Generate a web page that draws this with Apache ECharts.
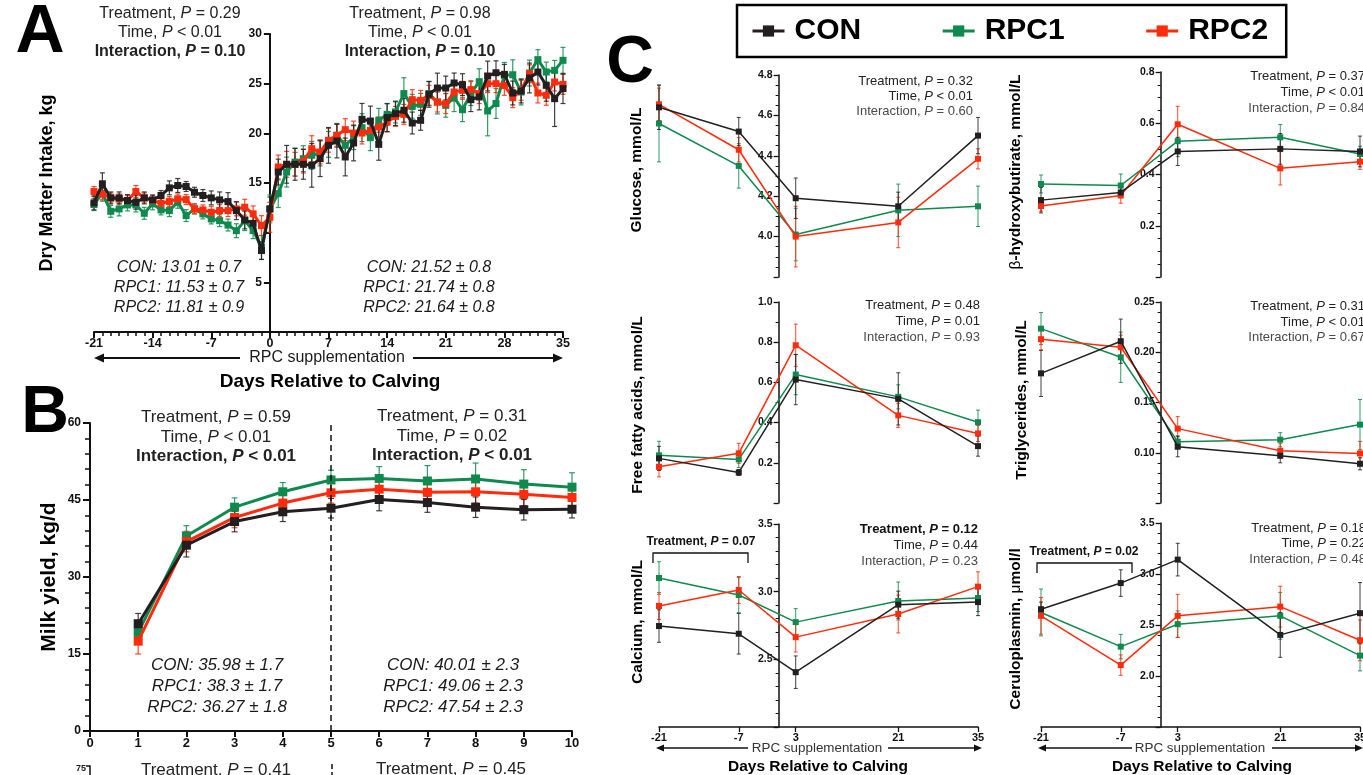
<!DOCTYPE html>
<html><head><meta charset="utf-8">
<script src="https://cdn.jsdelivr.net/npm/echarts@6/dist/echarts.min.js"></script>
<style>html,body{margin:0;padding:0;background:#fff}#c{width:1363px;height:775px}</style>
</head><body><div id="c"></div>
<script>
const FONT = '"Liberation Sans", Arial, Helvetica, sans-serif';
const COL = {CON:'#231f20', RPC1:'#0e8a4e', RPC2:'#ff2b0b'};
const GROUPS = ['CON','RPC1','RPC2'];

// ---------- Panel A: dry matter intake (kg/d) ----------
const daysA = [-21,-20,-19,-18,-17,-16,-15,-14,-13,-12,-11,-10,-9,-8,-7,-6,-5,-4,-3,-2,-1,0,1,2,3,4,5,6,7,8,9,10,11,12,13,14,15,16,17,18,19,20,21,22,23,24,25,26,27,28,29,30,31,32,33,34,35];
const dmiCON = [13.0,14.92,13.5,13.5,13.23,13.06,13.5,13.3,13.74,14.51,14.75,14.65,14.07,13.74,13.5,13.3,13.13,12.22,11.28,10.94,8.2,12.39,
  16.1,16.88,16.88,16.88,16.78,17.45,18.79,19.23,17.62,19.03,21.41,21.24,18.89,21.58,21.98,22.32,21.04,21.31,23.93,24.56,24.56,25.07,24.9,23.39,23.66,25.77,26.1,25.94,24.06,24.26,25.57,26.17,24.83,23.49,24.5];
const dmiRPC1 = [12.83,13.97,12.15,12.39,12.79,12.79,11.95,12.9,12.29,12.22,13.06,11.72,12.39,11.89,11.38,11.21,10.77,10.2,11.21,10.2,8.52,12.39,
  13.93,16.1,17.11,17.45,17.79,18.02,18.89,19.8,18.79,19.56,20.57,19.56,21.31,21.91,22.15,24.0,22.72,22.92,24.0,23.15,22.82,23.59,22.38,24.0,25.2,22.25,23.0,25.84,25.9,24.16,26.07,27.42,26.17,26.34,27.35];
const dmiRPC2 = [14.14,13.9,13.5,13.4,13.23,14.14,13.5,13.23,12.96,13.13,13.4,13.33,12.39,12.29,12.05,12.22,12.22,12.39,12.56,11.89,10.71,11.55,
  16.61,16.88,16.88,17.21,18.46,18.12,19.3,19.8,20.37,20.03,20.03,20.3,20.64,21.14,21.71,21.91,23.39,23.32,23.83,23.15,22.99,24.16,24.33,24.4,24.0,25.0,25.0,24.83,23.59,24.33,26.0,24.06,23.83,25.17,24.93];
const dmiCONse = [0.7,1.1,0.6,0.6,0.6,0.7,0.6,0.5,0.5,0.7,0.7,0.5,0.5,0.6,0.7,0.8,0.9,0.9,0.9,1.0,0.9,1.2,
  1.3,1.9,1.6,1.5,2.2,1.8,1.8,1.7,1.9,1.8,1.6,1.5,1.6,1.4,1.2,1.2,1.1,1.0,1.3,1.5,1.2,1.0,1.1,1.2,1.3,1.5,1.2,1.0,1.2,1.2,1.5,1.3,1.6,2.8,1.5];
const dmiRPC1se = [0.6,0.8,0.6,0.7,0.6,0.7,0.6,0.6,0.5,0.6,0.6,0.6,0.5,0.5,0.5,0.6,0.6,0.7,1.0,0.8,1.2,1.4,
  1.4,1.5,1.4,1.3,1.4,1.3,1.3,1.2,1.4,1.2,1.4,1.3,1.2,1.1,1.1,1.6,1.2,1.1,1.2,1.2,1.2,1.4,1.2,1.2,1.3,2.5,1.5,1.3,1.5,1.3,1.3,1.0,1.0,1.0,1.3];
const dmiRPC2se = [0.5,0.6,0.5,0.5,0.5,0.6,0.5,0.5,0.6,0.5,0.5,0.5,0.5,0.5,0.6,0.6,0.6,0.7,0.8,0.8,1.0,1.5,
  1.2,1.3,1.2,1.2,1.3,1.2,1.2,1.1,1.1,1.2,1.1,1.0,1.0,1.0,1.0,1.0,1.0,1.0,1.0,1.0,1.0,0.9,0.9,0.9,1.0,0.9,0.9,1.0,1.0,1.0,0.9,1.0,1.0,0.9,1.0];

// ---------- Panel B: milk yield (kg/d) ----------
const weeksB = [1,2,3,4,5,6,7,8,9,10];
const milkCON  = [20.9,36.2,40.8,42.7,43.4,45.1,44.5,43.6,43.1,43.2];
const milkRPC1 = [19.2,38.0,43.6,46.6,48.9,49.2,48.7,49.1,48.1,47.5];
const milkRPC2 = [17.5,36.9,41.6,44.4,46.4,47.1,46.5,46.6,46.1,45.5];
const milkCONse  = [2.0,2.3,2.0,1.9,1.9,2.2,1.9,2.0,2.0,1.7];
const milkRPC1se = [2.0,2.0,1.8,1.8,1.9,2.3,3.0,3.1,2.8,2.8];
const milkRPC2se = [2.5,2.0,2.0,2.0,2.0,2.0,2.5,2.2,2.2,2.0];

// ---------- Panel C: blood metabolites ----------
const daysC = [-21,-7,3,21,35];
const gluCON=[4.64,4.52,4.19,4.15,4.50], gluCONse=[0.11,0.07,0.10,0.07,0.09];
const gluRPC1=[4.56,4.35,4.01,4.13,4.15], gluRPC1se=[0.19,0.11,0.13,0.13,0.10];
const gluRPC2=[4.655,4.43,4.00,4.07,4.385], gluRPC2se=[0.08,0.06,0.15,0.125,0.05];
const bhbCON=[0.30,0.33,0.49,0.50,0.49], bhbCONse=[0.05,0.02,0.055,0.06,0.06];
const bhbRPC1=[0.363,0.357,0.53,0.545,0.48], bhbRPC1se=[0.035,0.045,0.06,0.05,0.03];
const bhbRPC2=[0.277,0.318,0.596,0.424,0.45], bhbRPC2se=[0.02,0.03,0.07,0.065,0.03];
const ffaCON=[0.222,0.152,0.614,0.518,0.283], ffaCONse=[0.06,0.015,0.125,0.13,0.05];
const ffaRPC1=[0.237,0.217,0.639,0.528,0.402], ffaRPC1se=[0.07,0.04,0.10,0.06,0.06];
const ffaRPC2=[0.18,0.247,0.785,0.436,0.346], ffaRPC2se=[0.05,0.05,0.105,0.06,0.04];
const tgCON=[0.179,0.211,0.106,0.097,0.089], tgCONse=[0.023,0.022,0.01,0.007,0.006];
const tgRPC1=[0.2235,0.195,0.111,0.113,0.128], tgRPC1se=[0.016,0.025,0.006,0.007,0.025];
const tgRPC2=[0.213,0.205,0.124,0.102,0.0993], tgRPC2se=[0.011,0.012,0.012,0.007,0.012];
const caCON=[2.746,2.689,2.405,2.904,2.923], caCONse=[0.12,0.15,0.12,0.10,0.10];
const caRPC1=[3.101,2.975,2.775,2.931,2.953], caRPC1se=[0.12,0.13,0.10,0.14,0.10];
const caRPC2=[2.894,3.012,2.664,2.835,3.037], caRPC2se=[0.10,0.10,0.11,0.14,0.11];
const cpCON=[2.655,2.911,3.141,2.403,2.616], cpCONse=[0.07,0.13,0.16,0.22,0.30];
const cpRPC1=[2.623,2.288,2.508,2.59,2.2], cpRPC1se=[0.23,0.12,0.13,0.23,0.15];
const cpRPC2=[2.59,2.107,2.59,2.68,2.35], cpRPC2se=[0.18,0.10,0.21,0.20,0.20];

// ---------- layout ----------
const panels = [
  {grid:{left:94,top:34,width:469,height:298}, xs:daysA,
   vals:{CON:dmiCON,RPC1:dmiRPC1,RPC2:dmiRPC2}, se:{CON:dmiCONse,RPC1:dmiRPC1se,RPC2:dmiRPC2se},
   lw:3, sym:7, cap:2.5, elw:1.2},
  {grid:{left:90,top:423,width:482,height:308}, xs:weeksB,
   vals:{CON:milkCON,RPC1:milkRPC1,RPC2:milkRPC2}, se:{CON:milkCONse,RPC1:milkRPC1se,RPC2:milkRPC2se},
   lw:3, sym:9, cap:3, elw:1.2},
  {grid:{left:659,top:75,width:319,height:202}, xs:daysC,
   vals:{CON:gluCON,RPC1:gluRPC1,RPC2:gluRPC2}, se:{CON:gluCONse,RPC1:gluRPC1se,RPC2:gluRPC2se}, lw:1.5, sym:6, cap:2, elw:1},
  {grid:{left:1041,top:72,width:319,height:205}, xs:daysC,
   vals:{CON:bhbCON,RPC1:bhbRPC1,RPC2:bhbRPC2}, se:{CON:bhbCONse,RPC1:bhbRPC1se,RPC2:bhbRPC2se}, lw:1.5, sym:6, cap:2, elw:1},
  {grid:{left:659,top:302,width:319,height:201}, xs:daysC,
   vals:{CON:ffaCON,RPC1:ffaRPC1,RPC2:ffaRPC2}, se:{CON:ffaCONse,RPC1:ffaRPC1se,RPC2:ffaRPC2se}, lw:1.5, sym:6, cap:2, elw:1},
  {grid:{left:1041,top:302,width:319,height:201}, xs:daysC,
   vals:{CON:tgCON,RPC1:tgRPC1,RPC2:tgRPC2}, se:{CON:tgCONse,RPC1:tgRPC1se,RPC2:tgRPC2se}, lw:1.5, sym:6, cap:2, elw:1},
  {grid:{left:659,top:524,width:319,height:203}, xs:daysC,
   vals:{CON:caCON,RPC1:caRPC1,RPC2:caRPC2}, se:{CON:caCONse,RPC1:caRPC1se,RPC2:caRPC2se}, lw:1.5, sym:6, cap:2, elw:1},
  {grid:{left:1041,top:523,width:319,height:204}, xs:daysC,
   vals:{CON:cpCON,RPC1:cpRPC1,RPC2:cpRPC2}, se:{CON:cpCONse,RPC1:cpRPC1se,RPC2:cpRPC2se}, lw:1.5, sym:6, cap:2, elw:1}
];
// y axes cross the day axis at day 0 (calving): shift them into the grid
const XMIN = -21, XMAX = 35;
function zeroOffset(gi){ return -(0 - XMIN) / (XMAX - XMIN) * panels[gi].grid.width; }

const LBL = {fontFamily:FONT, fontWeight:'bold', color:'#111'};
function hideMin(min, dec){ return v => (Math.abs(v-min)<1e-9 ? '' : v.toFixed(dec)); }
function cY(gi, min, max, interval, split, dec){
  return {gridIndex:gi, type:'value', min, max, interval, offset:zeroOffset(gi),
    axisLine:{show:true, onZero:false, lineStyle:{color:'#111', width:1.5}},
    axisTick:{show:true, length:5, lineStyle:{color:'#111', width:1.3}},
    minorTick:{show:true, splitNumber:split, length:3, lineStyle:{color:'#111', width:1}},
    axisLabel:{...LBL, fontSize:10.5, margin:6, formatter:hideMin(min,dec)},
    splitLine:{show:false}, minorSplitLine:{show:false}};
}
function cXhidden(gi){ return {gridIndex:gi, type:'value', min:XMIN, max:XMAX, show:false, splitLine:{show:false}}; }
function cXbottom(gi){
  return {gridIndex:gi, type:'value', min:XMIN, max:XMAX, splitLine:{show:false},
    axisLine:{show:true, onZero:false, lineStyle:{color:'#111', width:1.5}},
    axisTick:{show:true, length:5, customValues:daysC, lineStyle:{color:'#111', width:1.3}},
    axisLabel:{...LBL, fontSize:11, margin:5, customValues:daysC}};
}

const xAxes = [
  {gridIndex:0, type:'value', min:XMIN, max:XMAX, interval:7, splitLine:{show:false}, minorSplitLine:{show:false},
   axisLine:{onZero:false, lineStyle:{color:'#111', width:2}},
   axisTick:{length:6, lineStyle:{color:'#111', width:2}},
   minorTick:{show:true, splitNumber:7, length:4, lineStyle:{color:'#111', width:1.5}},
   axisLabel:{...LBL, fontSize:12.5, margin:5}},
  {gridIndex:1, type:'value', min:0, max:10, interval:1, splitLine:{show:false},
   axisLine:{onZero:false, lineStyle:{color:'#111', width:2}},
   axisTick:{length:6, lineStyle:{color:'#111', width:2}},
   axisLabel:{...LBL, fontSize:13, margin:6}},
  cXhidden(2), cXhidden(3), cXhidden(4), cXhidden(5), cXbottom(6), cXbottom(7)
];
const yAxes = [
  {gridIndex:0, type:'value', min:0, max:30, interval:5, splitLine:{show:false}, offset:zeroOffset(0),
   axisLine:{onZero:false, lineStyle:{color:'#111', width:2}},
   axisTick:{length:6, lineStyle:{color:'#111', width:2}},
   axisLabel:{...LBL, fontSize:12, margin:8, formatter:v => (v===0||v===10) ? '' : String(v)}},
  {gridIndex:1, type:'value', min:0, max:60, interval:15, splitLine:{show:false}, minorSplitLine:{show:false},
   axisLine:{onZero:false, lineStyle:{color:'#111', width:2}},
   axisTick:{length:7, lineStyle:{color:'#111', width:2}},
   minorTick:{show:true, splitNumber:5, length:5, lineStyle:{color:'#111', width:1.5}},
   axisLabel:{...LBL, fontSize:12, margin:9}},
  cY(2, 3.8, 4.8, 0.2, 4, 1),
  cY(3, 0, 0.8, 0.2, 4, 1),
  cY(4, 0, 1.0, 0.2, 2, 1),
  cY(5, 0.05, 0.25, 0.05, 5, 2),
  cY(6, 2.0, 3.5, 0.5, 5, 1),
  cY(7, 1.5, 3.5, 0.5, 5, 1)
];

function errRender(color, cap, lw){
  return function(params, api){
    const x = api.value(0);
    const lo = api.coord([x, api.value(1)]);
    const hi = api.coord([x, api.value(2)]);
    const st = {stroke:color, lineWidth:lw, opacity:0.85};
    return {type:'group', children:[
      {type:'line', shape:{x1:lo[0], y1:lo[1], x2:hi[0], y2:hi[1]}, style:st},
      {type:'line', shape:{x1:lo[0]-cap, y1:lo[1], x2:lo[0]+cap, y2:lo[1]}, style:st},
      {type:'line', shape:{x1:hi[0]-cap, y1:hi[1], x2:hi[0]+cap, y2:hi[1]}, style:st}
    ]};
  };
}

const series = [];
const drawOrder = ['RPC1','RPC2','CON'];
panels.forEach((p, gi) => {
  drawOrder.forEach((g, k) => {
    const v = p.vals[g], e = p.se[g];
    series.push({type:'custom', name:g+'-se', xAxisIndex:gi, yAxisIndex:gi, silent:true, z:2,
      data: p.xs.map((x,i)=>[x, v[i]-e[i], v[i]+e[i]]), encode:{x:0, y:[1,2]},
      renderItem: errRender(COL[g], p.cap, p.elw)});
    const s = {type:'line', name:g, xAxisIndex:gi, yAxisIndex:gi, silent:true, z:3+k,
      data: p.xs.map((x,i)=>[x, v[i]]), symbol:'rect', symbolSize:p.sym, showSymbol:true,
      lineStyle:{color:COL[g], width:p.lw}, itemStyle:{color:COL[g]}, clip:false};
    if (gi===1 && g==='CON') {
      s.markLine = {silent:true, symbol:'none', label:{show:false},
        lineStyle:{type:[6,4], color:'#111', width:1.5}, data:[{xAxis:5}]};
    }
    series.push(s);
  });
});

// ---------- text & decorations ----------
const G = [];
function T(x, y, text, size, o={}){
  G.push({type:'text', x, y, rotation:o.rot||0, silent:true, z:50,
    style:{text, fontFamily:FONT, fontSize:size, fontWeight:o.bold?'bold':'normal',
      fontStyle:o.italic?'italic':'normal', fill:o.color||'#1a1a1a',
      align:o.align||'center', verticalAlign:o.va||'middle'}});
}
function P(x, y, label, rel, val, size, o={}){
  const w = o.bold ? 'bold' : 'normal';
  const c = o.color || '#222';
  const base = {fontFamily:FONT, fontSize:size, fontWeight:w, fill:c};
  G.push({type:'text', x, y, silent:true, z:50,
    style:{text:'{a|'+label+', }{b|P}{a| '+rel+' '+val+'}', fontFamily:FONT, fontSize:size,
      align:o.align||'center', verticalAlign:'middle',
      rich:{a:base, b:Object.assign({}, base, {fontStyle:'italic'})}}});
}
function L(pts, lw, color, dash){
  G.push({type:'polyline', silent:true, z:50, shape:{points:pts},
    style:{stroke:color||'#111', lineWidth:lw, fill:null, lineDash:dash||null}});
}
function ARROWS(x1, x2, gapL, gapR, y, lw, hw, hh){
  L([[x1+hw-1,y],[gapL,y]], lw); L([[gapR,y],[x2-hw+1,y]], lw);
  G.push({type:'polygon', silent:true, z:50, shape:{points:[[x1,y],[x1+hw,y-hh],[x1+hw,y+hh]]}, style:{fill:'#111'}});
  G.push({type:'polygon', silent:true, z:50, shape:{points:[[x2,y],[x2-hw,y-hh],[x2-hw,y+hh]]}, style:{fill:'#111'}});
}

// panel letters
T(40, 33, 'A', 68, {bold:true, color:'#000'});
T(45, 414, 'B', 66, {bold:true, color:'#000'});
T(630, 64, 'C', 66, {bold:true, color:'#000'});

// Panel A
T(47, 183, 'Dry Matter Intake, kg', 18, {bold:true, rot:Math.PI/2, color:'#000'});
P(170, 14, 'Treatment', '=', '0.29', 16);
P(170, 33, 'Time', '<', '0.01', 16);
P(170, 52, 'Interaction', '=', '0.10', 16, {bold:true});
P(420, 14, 'Treatment', '=', '0.98', 16);
P(420, 33, 'Time', '<', '0.01', 16);
P(420, 52, 'Interaction', '=', '0.10', 16, {bold:true});
T(179, 268, 'CON: 13.01 ± 0.7', 16, {italic:true});
T(179, 288, 'RPC1: 11.53 ± 0.7', 16, {italic:true});
T(179, 308, 'RPC2: 11.81 ± 0.9', 16, {italic:true});
T(429, 268, 'CON: 21.52 ± 0.8', 16, {italic:true});
T(429, 288, 'RPC1: 21.74 ± 0.8', 16, {italic:true});
T(429, 308, 'RPC2: 21.64 ± 0.8', 16, {italic:true});
ARROWS(94, 563, 240, 413, 358, 2, 10, 4.5);
T(327, 358, 'RPC supplementation', 16);
T(330, 382, 'Days Relative to Calving', 19, {bold:true, color:'#000'});

// Panel B
T(49, 577, 'Milk yield, kg/d', 21, {bold:true, rot:Math.PI/2, color:'#000'});
P(216, 417, 'Treatment', '=', '0.59', 17);
P(216, 437, 'Time', '<', '0.01', 17);
P(216, 456, 'Interaction', '<', '0.01', 17, {bold:true});
P(452, 416, 'Treatment', '=', '0.31', 17);
P(452, 436, 'Time', '=', '0.02', 17);
P(452, 455, 'Interaction', '<', '0.01', 17, {bold:true});
T(217, 665, 'CON: 35.98 ± 1.7', 17, {italic:true});
T(217, 686, 'RPC1: 38.3 ± 1.7', 17, {italic:true});
T(217, 707, 'RPC2: 36.27 ± 1.8', 17, {italic:true});
T(453, 665, 'CON: 40.01 ± 2.3', 17, {italic:true});
T(453, 686, 'RPC1: 49.06 ± 2.3', 17, {italic:true});
T(453, 707, 'RPC2: 47.54 ± 2.3', 17, {italic:true});
// start of the next (cropped) panel
T(86, 769, '75', 9, {bold:true, align:'right'});
L([[86,766],[90,766],[90,776]], 1.5);
L([[332,764],[332,776]], 1.5, '#111', [5,3]);
P(216, 770, 'Treatment', '=', '0.41', 17);
P(451, 769, 'Treatment', '=', '0.45', 17);

// Panel C axis titles
T(637, 170, 'Glucose, mmol/L', 15.5, {bold:true, rot:Math.PI/2, color:'#000'});
G.push({type:'text', x:1016, y:172, rotation:Math.PI/2, silent:true, z:50,
  style:{text:'{r|β}{b|-hydroxybutirate, mmol/L}', align:'center', verticalAlign:'middle', fontFamily:FONT, fontSize:15.5,
    rich:{r:{fontFamily:FONT, fontSize:15.5, fill:'#000'}, b:{fontFamily:FONT, fontSize:15.5, fontWeight:'bold', fill:'#000'}}}});
T(638, 405, 'Free fatty acids, mmol/L', 15.5, {bold:true, rot:Math.PI/2, color:'#000'});
T(1022, 400, 'Triglycerides, mmol/L', 15.5, {bold:true, rot:Math.PI/2, color:'#000'});
T(638, 622, 'Calcium, mmol/L', 15.5, {bold:true, rot:Math.PI/2, color:'#000'});
G.push({type:'text', x:1016, y:629, rotation:Math.PI/2, silent:true, z:50,
  style:{text:'{b|Ceruloplasmin, }{r|μ}{b|mol/l}', align:'center', verticalAlign:'middle', fontFamily:FONT, fontSize:15.5,
    rich:{r:{fontFamily:FONT, fontSize:15.5, fill:'#000'}, b:{fontFamily:FONT, fontSize:15.5, fontWeight:'bold', fill:'#000'}}}});

// Panel C statistics
const GRAY = '#4a4a4a';
P(973, 81, 'Treatment', '=', '0.32', 13, {align:'right'});
P(973, 96, 'Time', '<', '0.01', 13, {align:'right'});
P(973, 111, 'Interaction', '=', '0.60', 13, {align:'right', color:GRAY});
P(1365, 76, 'Treatment', '=', '0.37', 13, {align:'right'});
P(1365, 92, 'Time', '<', '0.01', 13, {align:'right'});
P(1365, 108, 'Interaction', '=', '0.84', 13, {align:'right', color:GRAY});
P(980, 305, 'Treatment', '=', '0.48', 13, {align:'right'});
P(980, 321, 'Time', '=', '0.01', 13, {align:'right'});
P(980, 337, 'Interaction', '=', '0.93', 13, {align:'right', color:GRAY});
P(1365, 306, 'Treatment', '=', '0.31', 13, {align:'right'});
P(1365, 322, 'Time', '<', '0.01', 13, {align:'right'});
P(1365, 337, 'Interaction', '=', '0.67', 13, {align:'right', color:GRAY});
P(978, 529, 'Treatment', '=', '0.12', 13, {align:'right', bold:true, color:'#111'});
P(978, 545, 'Time', '=', '0.44', 13, {align:'right'});
P(978, 561, 'Interaction', '=', '0.23', 13, {align:'right', color:GRAY});
P(1366, 528, 'Treatment', '=', '0.18', 13, {align:'right'});
P(1366, 543, 'Time', '=', '0.22', 13, {align:'right'});
P(1366, 559, 'Interaction', '=', '0.48', 13, {align:'right', color:GRAY});
// brackets
P(701, 542, 'Treatment', '=', '0.07', 12, {bold:true, color:'#111'});
L([[653,563],[653,553],[748,553],[748,563]], 1.3);
P(1084, 552, 'Treatment', '=', '0.02', 12, {bold:true, color:'#111'});
L([[1037,573],[1037,563],[1132,563],[1132,573]], 1.3);
// bottom arrows and titles
ARROWS(656, 982, 748, 888, 748, 1.5, 8, 3.5);
T(817, 748, 'RPC supplementation', 13.4, {color:'#333'});
T(818, 767, 'Days Relative to Calving', 15.5, {bold:true, color:'#000'});
ARROWS(1038, 1363, 1132, 1272, 748, 1.5, 8, 3.5);
T(1200, 748, 'RPC supplementation', 13.4, {color:'#333'});
T(1202, 767, 'Days Relative to Calving', 15.5, {bold:true, color:'#000'});

const chart = echarts.init(document.getElementById('c'), null, {renderer:'canvas'});
chart.setOption({
  backgroundColor:'#fff',
  animation:false,
  grid: panels.map(p => Object.assign({outerBoundsMode:'none', containLabel:false}, p.grid)),
  xAxis: xAxes,
  yAxis: yAxes,
  legend: {data:GROUPS, left:737, top:5, selectedMode:false,
    itemWidth:32, itemHeight:14, itemGap:80, padding:[11,18,11,14],
    borderColor:'#000', borderWidth:2.5,
    lineStyle:{width:3},
    textStyle:{fontFamily:FONT, fontSize:30, fontWeight:'bold', color:'#000', padding:[0,0,0,5]}},
  series,
  graphic: G
});
</script></body></html>
